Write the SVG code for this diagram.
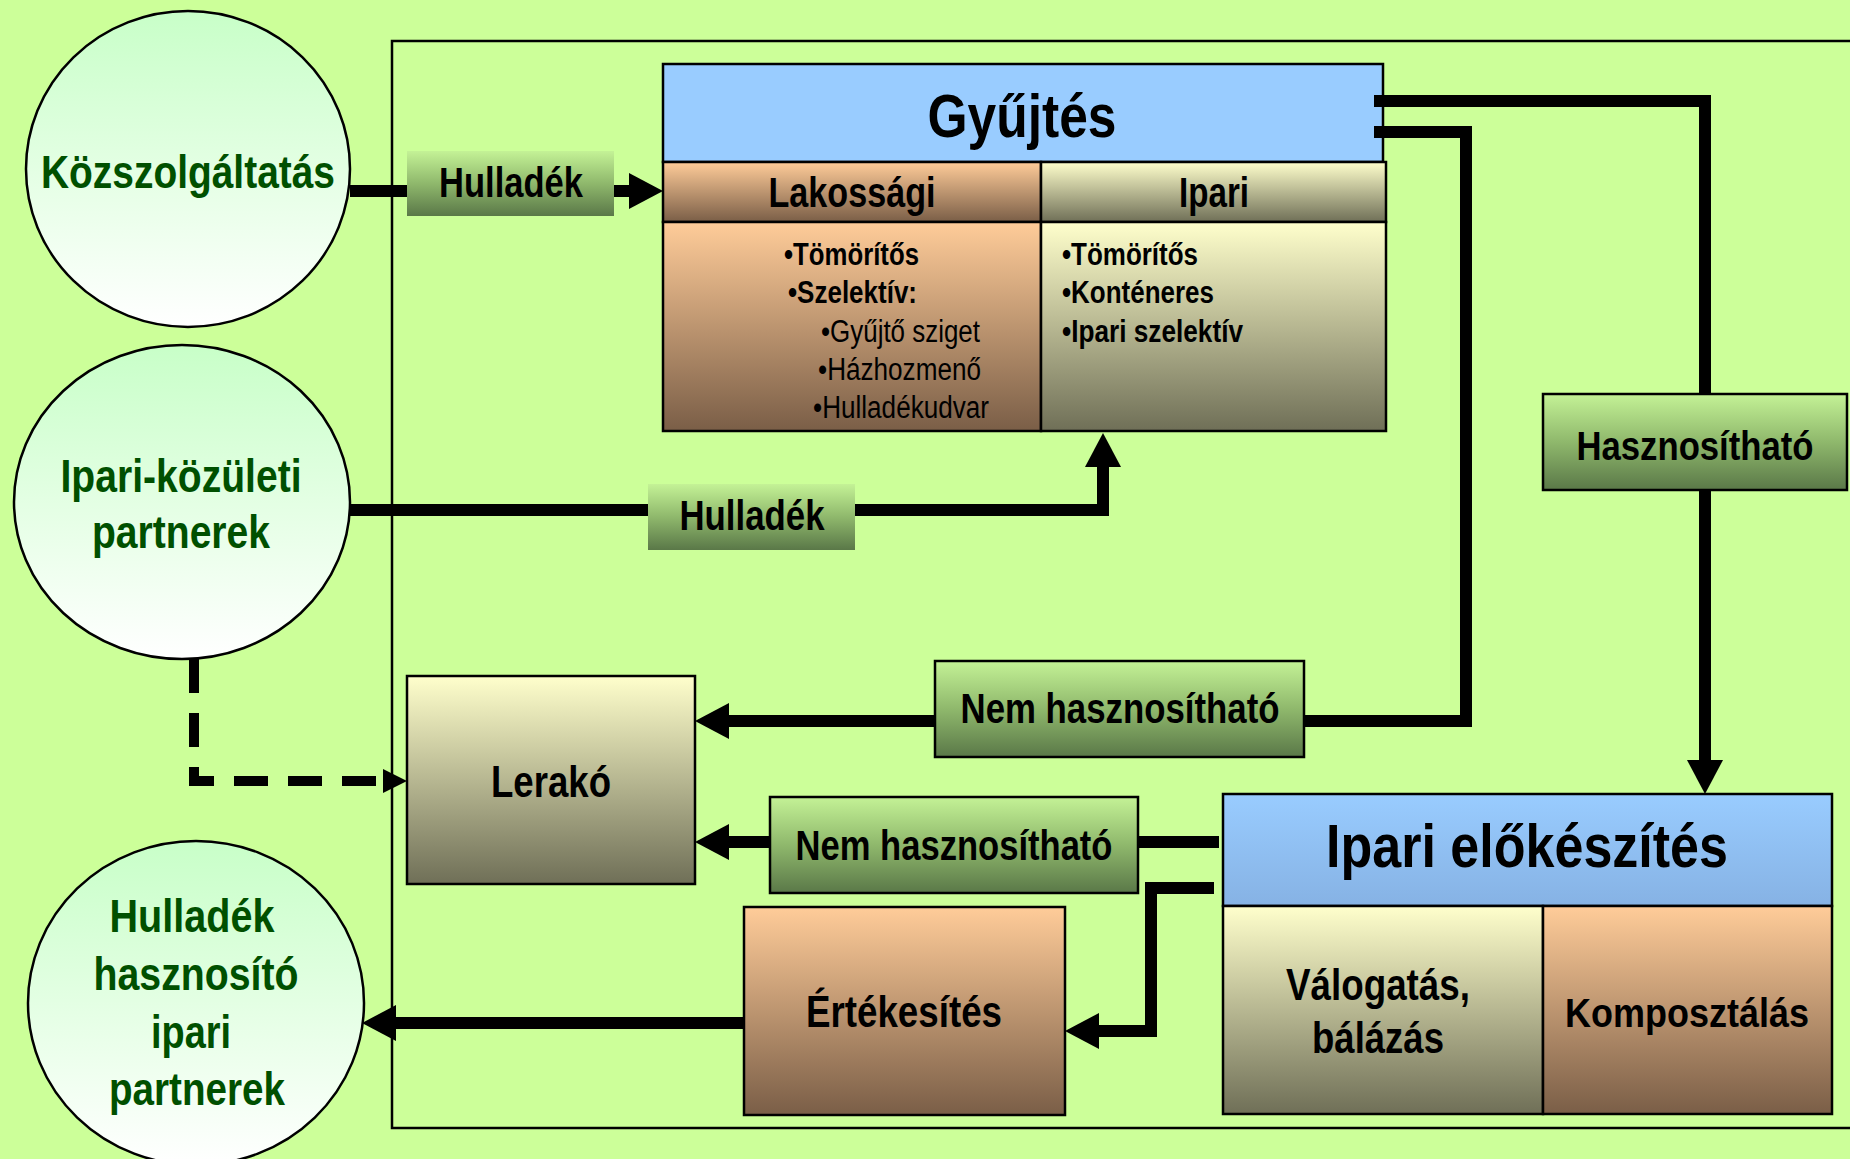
<svg xmlns="http://www.w3.org/2000/svg" width="1850" height="1159" viewBox="0 0 1850 1159">
<defs>
<linearGradient id="gCircle" x1="0" y1="0" x2="0" y2="1"><stop offset="0" stop-color="#c8ffc8"/><stop offset="1" stop-color="#ffffff"/></linearGradient>
<linearGradient id="gBrown" x1="0" y1="0" x2="0" y2="1"><stop offset="0" stop-color="#ffcc99"/><stop offset="1" stop-color="#7a5e47"/></linearGradient>
<linearGradient id="gOlive" x1="0" y1="0" x2="0" y2="1"><stop offset="0" stop-color="#ffffcc"/><stop offset="1" stop-color="#6f6f57"/></linearGradient>
<linearGradient id="gLabel" x1="0" y1="0" x2="0" y2="1"><stop offset="0" stop-color="#c4f296"/><stop offset="0.5" stop-color="#8fb86c"/><stop offset="1" stop-color="#5a7848"/></linearGradient>
<linearGradient id="gBlue" x1="0" y1="0" x2="0" y2="1"><stop offset="0" stop-color="#99ccff"/><stop offset="1" stop-color="#86b2e4"/></linearGradient>
<marker id="ah" markerUnits="userSpaceOnUse" markerWidth="34" markerHeight="36" viewBox="0 0 34 36" refX="0" refY="18" orient="auto"><path d="M0,0 L34,18 L0,36 Z" fill="#000"/></marker>
<marker id="ahs" markerUnits="userSpaceOnUse" markerWidth="24" markerHeight="24" viewBox="0 0 24 24" refX="0" refY="12" orient="auto"><path d="M0,0 L24,12 L0,24 Z" fill="#000"/></marker>
</defs>
<style>
.t{font-family:"Liberation Sans",Arial,sans-serif;font-weight:bold;fill:#000;text-anchor:middle}
.ct{font-family:"Liberation Sans",Arial,sans-serif;font-weight:bold;fill:#005000;text-anchor:middle;font-size:47px}
.b{font-family:"Liberation Sans",Arial,sans-serif;font-size:31px;fill:#000}
.bb{font-weight:bold}
.box{stroke:#000;stroke-width:2.5}
.circ{fill:url(#gCircle);stroke:#000;stroke-width:2.5}
.ln{fill:none;stroke:#000;stroke-width:12;stroke-linejoin:miter}
.lbl{fill:url(#gLabel)}
.lblb{fill:url(#gLabel);stroke:#000;stroke-width:2.5}
</style>
<rect x="0" y="0" width="1850" height="1159" fill="#ccff99"/>
<rect id="frame" x="392" y="41" width="1500" height="1087" fill="none" stroke="#000" stroke-width="2.5"/>

<g id="kozszolgaltatas">
<ellipse class="circ" cx="188" cy="169" rx="162" ry="158"/>
<text class="ct" x="188" y="188" textLength="294" lengthAdjust="spacingAndGlyphs">Közszolgáltatás</text>
</g>
<g id="ipari-kozuleti">
<ellipse class="circ" cx="182" cy="502" rx="168" ry="157"/>
<text class="ct" x="181" y="492" textLength="241" lengthAdjust="spacingAndGlyphs">Ipari-közületi</text>
<text class="ct" x="181" y="548" textLength="178" lengthAdjust="spacingAndGlyphs">partnerek</text>
</g>
<g id="hasznosito-partnerek">
<ellipse class="circ" cx="196" cy="1003" rx="168" ry="162"/>
<text class="ct" x="192" y="932" textLength="165" lengthAdjust="spacingAndGlyphs">Hulladék</text>
<text class="ct" x="196" y="990" textLength="205" lengthAdjust="spacingAndGlyphs">hasznosító</text>
<text class="ct" x="191" y="1048" textLength="80" lengthAdjust="spacingAndGlyphs">ipari</text>
<text class="ct" x="197" y="1105" textLength="176" lengthAdjust="spacingAndGlyphs">partnerek</text>
</g>

<g id="gyujtes">
<rect class="box" x="663" y="64" width="720" height="98" fill="#99ccff"/>
<text class="t" x="1022" y="137" font-size="62" textLength="189" lengthAdjust="spacingAndGlyphs">Gyűjtés</text>
<rect class="box" x="663" y="162" width="378" height="60" fill="url(#gBrown)"/>
<text class="t" x="852" y="207" font-size="42" textLength="167" lengthAdjust="spacingAndGlyphs">Lakossági</text>
<rect class="box" x="1041" y="162" width="345" height="60" fill="url(#gOlive)"/>
<text class="t" x="1214" y="207" font-size="42" textLength="70" lengthAdjust="spacingAndGlyphs">Ipari</text>
<rect class="box" x="663" y="222" width="378" height="209" fill="url(#gBrown)"/>
<text class="b bb" x="784" y="265" textLength="135" lengthAdjust="spacingAndGlyphs">•Tömörítős</text>
<text class="b bb" x="788" y="303" textLength="129" lengthAdjust="spacingAndGlyphs">•Szelektív:</text>
<text class="b" x="821" y="342" textLength="159" lengthAdjust="spacingAndGlyphs">•Gyűjtő sziget</text>
<text class="b" x="818" y="380" textLength="163" lengthAdjust="spacingAndGlyphs">•Házhozmenő</text>
<text class="b" x="813" y="418" textLength="176" lengthAdjust="spacingAndGlyphs">•Hulladékudvar</text>
<rect class="box" x="1041" y="222" width="345" height="209" fill="url(#gOlive)"/>
<text class="b bb" x="1062" y="265" textLength="136" lengthAdjust="spacingAndGlyphs">•Tömörítős</text>
<text class="b bb" x="1062" y="303" textLength="152" lengthAdjust="spacingAndGlyphs">•Konténeres</text>
<text class="b bb" x="1062" y="342" textLength="181" lengthAdjust="spacingAndGlyphs">•Ipari szelektív</text>
</g>

<g id="lerako">
<rect class="box" x="407" y="676" width="288" height="208" fill="url(#gOlive)"/>
<text class="t" x="551" y="797" font-size="44" textLength="120" lengthAdjust="spacingAndGlyphs">Lerakó</text>
</g>

<g id="ertekesites">
<rect class="box" x="744" y="907" width="321" height="208" fill="url(#gBrown)"/>
<text class="t" x="904" y="1027" font-size="44" textLength="196" lengthAdjust="spacingAndGlyphs">Értékesítés</text>
</g>

<g id="ipari-elokeszites">
<rect class="box" x="1223" y="794" width="609" height="112" fill="url(#gBlue)"/>
<text class="t" x="1527" y="867" font-size="62" textLength="402" lengthAdjust="spacingAndGlyphs">Ipari előkészítés</text>
<rect class="box" x="1223" y="906" width="320" height="208" fill="url(#gOlive)"/>
<text class="t" x="1378" y="1000" font-size="44" textLength="184" lengthAdjust="spacingAndGlyphs">Válogatás,</text>
<text class="t" x="1378" y="1053" font-size="44" textLength="132" lengthAdjust="spacingAndGlyphs">bálázás</text>
<rect class="box" x="1543" y="906" width="289" height="208" fill="url(#gBrown)"/>
<text class="t" x="1687" y="1027" font-size="40" textLength="244" lengthAdjust="spacingAndGlyphs">Komposztálás</text>
</g>

<g id="connectors">
<path class="ln" d="M350,191 H629" marker-end="url(#ah)"/>
<path class="ln" d="M350,510 H1103 V467" marker-end="url(#ah)"/>
<path class="ln" d="M1374,101 H1705 V760" marker-end="url(#ah)"/>
<path class="ln" d="M1374,132 H1466 V721 H729" marker-end="url(#ah)"/>
<path class="ln" d="M1219,842 H729" marker-end="url(#ah)"/>
<path class="ln" d="M1214,888 H1151 V1031 H1099" marker-end="url(#ah)"/>
<path class="ln" d="M744,1023 H396" marker-end="url(#ah)"/>
<path fill="none" stroke="#000" stroke-width="10" stroke-dasharray="34 20" d="M194,659 V781 H383" marker-end="url(#ahs)"/>

<g id="lbl-hulladek-1">
<rect class="lbl" x="407" y="151" width="207" height="65"/>
<text class="t" x="511" y="197" font-size="42" textLength="144" lengthAdjust="spacingAndGlyphs">Hulladék</text>
</g>
<g id="lbl-hulladek-2">
<rect class="lbl" x="648" y="484" width="207" height="66"/>
<text class="t" x="752" y="530" font-size="42" textLength="145" lengthAdjust="spacingAndGlyphs">Hulladék</text>
</g>
<g id="lbl-hasznosithato">
<rect class="lblb" x="1543" y="394" width="304" height="96"/>
<text class="t" x="1695" y="460" font-size="40" textLength="237" lengthAdjust="spacingAndGlyphs">Hasznosítható</text>
</g>
<g id="lbl-nem-1">
<rect class="lblb" x="935" y="661" width="369" height="96"/>
<text class="t" x="1120" y="723" font-size="42" textLength="319" lengthAdjust="spacingAndGlyphs">Nem hasznosítható</text>
</g>
<g id="lbl-nem-2">
<rect class="lblb" x="770" y="797" width="368" height="96"/>
<text class="t" x="954" y="860" font-size="42" textLength="317" lengthAdjust="spacingAndGlyphs">Nem hasznosítható</text>
</g>
</g>
</svg>
